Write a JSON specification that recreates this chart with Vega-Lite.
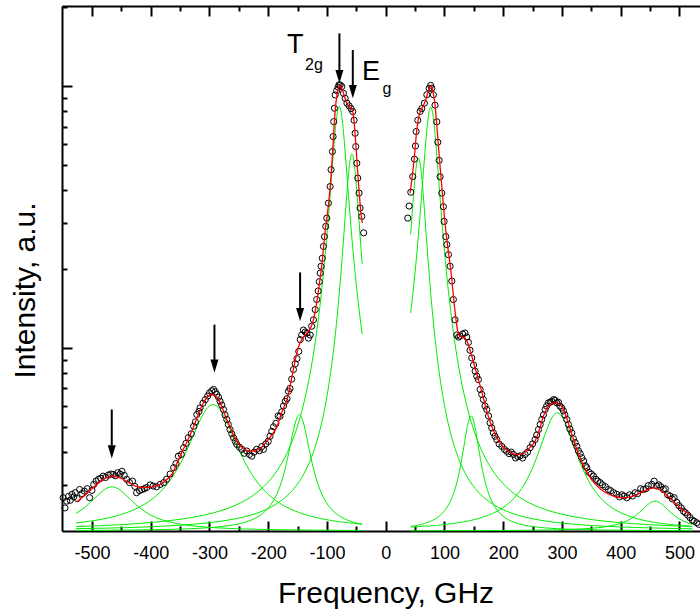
{
"$schema":"https://vega.github.io/schema/vega-lite/v6.json",
"width":638,"height":525,
"autosize":{"type":"none"},
"padding":{"left":62,"top":6,"right":0,"bottom":80},
"background":"white",
"config":{"view":{"stroke":null}},
"datasets":{
"pts":[
{"f":-549,"v":0.268},{"f":-546,"v":0.245},{"f":-543,"v":0.26},{"f":-540,"v":0.271},{"f":-537,"v":0.262},{"f":-534,"v":0.276},{"f":-531,"v":0.27},{"f":-528.5,"v":0.28},{"f":-525,"v":0.266},{"f":-521,"v":0.288},{"f":-517,"v":0.278},{"f":-513,"v":0.284},{"f":-508,"v":0.29},{"f":-504,"v":0.268},{"f":-500,"v":0.286},{"f":-497,"v":0.301},{"f":-493,"v":0.31},{"f":-489,"v":0.315},{"f":-485,"v":0.318},{"f":-481,"v":0.324},{"f":-477,"v":0.32},{"f":-472,"v":0.327},{"f":-468,"v":0.33},{"f":-464,"v":0.329},{"f":-460,"v":0.325},{"f":-456,"v":0.334},{"f":-452,"v":0.33},{"f":-449,"v":0.338},{"f":-445,"v":0.326},{"f":-441,"v":0.315},{"f":-436,"v":0.306},{"f":-431,"v":0.31},{"f":-427,"v":0.296},{"f":-424,"v":0.28},{"f":-419,"v":0.285},{"f":-415,"v":0.288},{"f":-411,"v":0.29},{"f":-407,"v":0.293},{"f":-401,"v":0.3},{"f":-396,"v":0.297},{"f":-390,"v":0.295},{"f":-384,"v":0.301},{"f":-378,"v":0.306},{"f":-373,"v":0.315},{"f":-367,"v":0.33},{"f":-361,"v":0.349},{"f":-357,"v":0.362},{"f":-353,"v":0.386},{"f":-348,"v":0.392},{"f":-344,"v":0.416},{"f":-340,"v":0.432},{"f":-336,"v":0.454},{"f":-331,"v":0.47},{"f":-327,"v":0.502},{"f":-324,"v":0.522},{"f":-321.5,"v":0.557},{"f":-318,"v":0.572},{"f":-316,"v":0.59},{"f":-311,"v":0.615},{"f":-307,"v":0.635},{"f":-303,"v":0.655},{"f":-300,"v":0.673},{"f":-296,"v":0.686},{"f":-293,"v":0.694},{"f":-290,"v":0.68},{"f":-287.5,"v":0.664},{"f":-284.5,"v":0.648},{"f":-282,"v":0.626},{"f":-279,"v":0.605},{"f":-276,"v":0.582},{"f":-273.5,"v":0.555},{"f":-270.5,"v":0.533},{"f":-268,"v":0.51},{"f":-265,"v":0.488},{"f":-262,"v":0.47},{"f":-259,"v":0.454},{"f":-256,"v":0.44},{"f":-253.5,"v":0.428},{"f":-249,"v":0.418},{"f":-245,"v":0.41},{"f":-240.5,"v":0.396},{"f":-236.5,"v":0.404},{"f":-232,"v":0.392},{"f":-228,"v":0.386},{"f":-224,"v":0.4},{"f":-219.5,"v":0.41},{"f":-215,"v":0.405},{"f":-211,"v":0.42},{"f":-208,"v":0.41},{"f":-204,"v":0.43},{"f":-200,"v":0.44},{"f":-197,"v":0.46},{"f":-194,"v":0.48},{"f":-191,"v":0.5},{"f":-187,"v":0.515},{"f":-183,"v":0.55},{"f":-180,"v":0.548},{"f":-177,"v":0.57},{"f":-174,"v":0.6},{"f":-171,"v":0.625},{"f":-168,"v":0.64},{"f":-165.5,"v":0.683},{"f":-163,"v":0.7},{"f":-160,"v":0.76},{"f":-157,"v":0.827},{"f":-154,"v":0.87},{"f":-151,"v":0.91},{"f":-148,"v":0.97},{"f":-145.5,"v":1.076},{"f":-143,"v":1.12},{"f":-140,"v":1.17},{"f":-137,"v":1.15},{"f":-134,"v":1.14},{"f":-131.5,"v":1.09},{"f":-128.5,"v":1.12},{"f":-126,"v":1.21},{"f":-123,"v":1.28},{"f":-120,"v":1.4},{"f":-117.5,"v":1.53},{"f":-115,"v":1.65},{"f":-113,"v":1.79},{"f":-111.5,"v":1.93},{"f":-110,"v":2.05},{"f":-108,"v":2.2},{"f":-106,"v":2.44},{"f":-104.3,"v":2.66},{"f":-102,"v":2.91},{"f":-100.3,"v":3.13},{"f":-97.5,"v":3.57},{"f":-94.6,"v":4.13},{"f":-93,"v":4.79},{"f":-90.7,"v":5.62},{"f":-89.5,"v":6.41},{"f":-88.5,"v":7.31},{"f":-87.3,"v":8.22},{"f":-86,"v":9.24},{"f":-83.5,"v":9.6},{"f":-81,"v":9.9},{"f":-79.5,"v":10.1},{"f":-77.5,"v":10.09},{"f":-74.7,"v":9.95},{"f":-72,"v":9.38},{"f":-69,"v":8.97},{"f":-66,"v":8.6},{"f":-62.3,"v":8.4},{"f":-59,"v":8.2},{"f":-56,"v":7.98},{"f":-53.8,"v":7.4},{"f":-52,"v":6.6},{"f":-51,"v":5.87},{"f":-49.2,"v":5.07},{"f":-47.5,"v":4.45},{"f":-45.3,"v":3.9},{"f":-43.6,"v":3.42},{"f":-40.7,"v":3.18},{"f":-37.5,"v":2.75},
{"f":37.6,"v":3.13},{"f":39.8,"v":3.48},{"f":42.7,"v":3.93},{"f":46,"v":4.51},{"f":48.9,"v":5.26},{"f":50.6,"v":5.9},{"f":51.8,"v":6.7},{"f":54.6,"v":7.4},{"f":58.6,"v":8.0},{"f":61.4,"v":8.2},{"f":65.9,"v":8.6},{"f":70,"v":9.26},{"f":73.9,"v":9.8},{"f":76.5,"v":10.05},{"f":78.5,"v":9.8},{"f":81.2,"v":9.26},{"f":84,"v":8.45},{"f":87,"v":7.3},{"f":88.7,"v":6.1},{"f":91,"v":5.2},{"f":92.6,"v":4.5},{"f":95.5,"v":3.9},{"f":98.2,"v":3.46},{"f":99.4,"v":3.04},{"f":102.3,"v":2.66},{"f":104,"v":2.48},{"f":106.8,"v":2.27},{"f":109.6,"v":2.05},{"f":112.5,"v":1.8},{"f":115.2,"v":1.53},{"f":118,"v":1.28},{"f":121,"v":1.12},{"f":124,"v":1.1},{"f":126.6,"v":1.11},{"f":131,"v":1.13},{"f":135,"v":1.14},{"f":138,"v":1.1},{"f":140.8,"v":1.05},{"f":143.5,"v":0.98},{"f":146.5,"v":0.916},{"f":149.5,"v":0.86},{"f":152.2,"v":0.815},{"f":155,"v":0.78},{"f":157.8,"v":0.757},{"f":160.7,"v":0.694},{"f":163.5,"v":0.665},{"f":166.3,"v":0.635},{"f":169,"v":0.6},{"f":172,"v":0.582},{"f":175,"v":0.55},{"f":177.7,"v":0.518},{"f":180.5,"v":0.495},{"f":183.3,"v":0.474},{"f":186,"v":0.46},{"f":189,"v":0.447},{"f":193,"v":0.43},{"f":197.6,"v":0.421},{"f":202,"v":0.41},{"f":206,"v":0.403},{"f":210,"v":0.395},{"f":213.5,"v":0.4},{"f":217.4,"v":0.392},{"f":221,"v":0.38},{"f":225,"v":0.385},{"f":228.8,"v":0.387},{"f":233,"v":0.38},{"f":237.3,"v":0.392},{"f":241.5,"v":0.4},{"f":245.8,"v":0.416},{"f":250,"v":0.43},{"f":254.3,"v":0.447},{"f":257,"v":0.465},{"f":260,"v":0.488},{"f":263,"v":0.51},{"f":265.7,"v":0.533},{"f":268.5,"v":0.555},{"f":271.3,"v":0.582},{"f":274,"v":0.6},{"f":277,"v":0.617},{"f":280,"v":0.62},{"f":282.7,"v":0.626},{"f":286,"v":0.635},{"f":288.5,"v":0.63},{"f":291.2,"v":0.617},{"f":294,"v":0.62},{"f":296.5,"v":0.6},{"f":299.7,"v":0.59},{"f":302.5,"v":0.575},{"f":305,"v":0.555},{"f":308.3,"v":0.533},{"f":311,"v":0.51},{"f":313.5,"v":0.49},{"f":316.8,"v":0.474},{"f":319.5,"v":0.45},{"f":322.5,"v":0.435},{"f":325.3,"v":0.421},{"f":328,"v":0.405},{"f":331,"v":0.395},{"f":333.8,"v":0.381},{"f":337,"v":0.37},{"f":340,"v":0.355},{"f":342.3,"v":0.349},{"f":346,"v":0.335},{"f":350,"v":0.33},{"f":353.6,"v":0.324},{"f":358,"v":0.315},{"f":361,"v":0.31},{"f":365,"v":0.306},{"f":369,"v":0.3},{"f":374,"v":0.295},{"f":379,"v":0.288},{"f":383,"v":0.285},{"f":388,"v":0.28},{"f":393.4,"v":0.276},{"f":398,"v":0.27},{"f":402,"v":0.275},{"f":406,"v":0.272},{"f":410.4,"v":0.268},{"f":415,"v":0.275},{"f":420,"v":0.272},{"f":424.5,"v":0.28},{"f":429,"v":0.278},{"f":434,"v":0.29},{"f":438.6,"v":0.288},{"f":443,"v":0.29},{"f":447,"v":0.298},{"f":452.9,"v":0.301},{"f":457,"v":0.31},{"f":461.4,"v":0.297},{"f":465,"v":0.3},{"f":468.5,"v":0.295},{"f":472.7,"v":0.288},{"f":476,"v":0.29},{"f":480,"v":0.275},{"f":484,"v":0.272},{"f":488,"v":0.265},{"f":491,"v":0.268},{"f":495.5,"v":0.257},{"f":499,"v":0.25},{"f":503,"v":0.245},{"f":506.8,"v":0.238},{"f":510,"v":0.235},{"f":514,"v":0.23},{"f":518,"v":0.225},{"f":522,"v":0.22},{"f":525,"v":0.218},{"f":529.5,"v":0.215},{"f":533,"v":0.212}
],
"fit":[
{"s":"L","f":-526,"v":0.258},{"s":"L","f":-515,"v":0.27},{"s":"L","f":-505,"v":0.283},{"s":"L","f":-495,"v":0.297},{"s":"L","f":-485,"v":0.31},{"s":"L","f":-475,"v":0.32},{"s":"L","f":-466,"v":0.324},{"s":"L","f":-457,"v":0.322},{"s":"L","f":-448,"v":0.316},{"s":"L","f":-438,"v":0.307},{"s":"L","f":-428,"v":0.298},{"s":"L","f":-419,"v":0.294},{"s":"L","f":-410,"v":0.293},{"s":"L","f":-400,"v":0.294},{"s":"L","f":-390,"v":0.298},{"s":"L","f":-380,"v":0.305},{"s":"L","f":-370,"v":0.318},{"s":"L","f":-362,"v":0.335},{"s":"L","f":-355,"v":0.364},{"s":"L","f":-347,"v":0.4},{"s":"L","f":-340,"v":0.43},{"s":"L","f":-333,"v":0.465},{"s":"L","f":-327,"v":0.5},{"s":"L","f":-320,"v":0.55},{"s":"L","f":-313,"v":0.6},{"s":"L","f":-306,"v":0.64},{"s":"L","f":-300,"v":0.66},{"s":"L","f":-296,"v":0.664},{"s":"L","f":-291,"v":0.658},{"s":"L","f":-285,"v":0.635},{"s":"L","f":-278,"v":0.59},{"s":"L","f":-271,"v":0.535},{"s":"L","f":-265,"v":0.5},{"s":"L","f":-258,"v":0.46},{"s":"L","f":-250,"v":0.43},{"s":"L","f":-242,"v":0.413},{"s":"L","f":-235,"v":0.405},{"s":"L","f":-230,"v":0.404},{"s":"L","f":-224,"v":0.405},{"s":"L","f":-218,"v":0.408},{"s":"L","f":-212,"v":0.415},{"s":"L","f":-206,"v":0.43},{"s":"L","f":-200,"v":0.447},{"s":"L","f":-191,"v":0.475},{"s":"L","f":-185,"v":0.5},{"s":"L","f":-178,"v":0.56},{"s":"L","f":-171,"v":0.61},{"s":"L","f":-168,"v":0.635},{"s":"L","f":-162,"v":0.73},{"s":"L","f":-157,"v":0.83},{"s":"L","f":-152,"v":0.94},{"s":"L","f":-146,"v":1.045},{"s":"L","f":-140,"v":1.1},{"s":"L","f":-134,"v":1.14},{"s":"L","f":-128,"v":1.19},{"s":"L","f":-123,"v":1.28},{"s":"L","f":-119,"v":1.42},{"s":"L","f":-115,"v":1.62},{"s":"L","f":-112,"v":1.82},{"s":"L","f":-109,"v":2.05},{"s":"L","f":-106,"v":2.38},{"s":"L","f":-103,"v":2.8},{"s":"L","f":-100,"v":3.15},{"s":"L","f":-97,"v":3.6},{"s":"L","f":-94,"v":4.25},{"s":"L","f":-91,"v":5.3},{"s":"L","f":-88,"v":6.9},{"s":"L","f":-85.5,"v":8.3},{"s":"L","f":-83,"v":9.2},{"s":"L","f":-80.5,"v":9.85},{"s":"L","f":-78.5,"v":10.0},{"s":"L","f":-76,"v":9.9},{"s":"L","f":-73,"v":9.55},{"s":"L","f":-70,"v":9.1},{"s":"L","f":-67,"v":8.7},{"s":"L","f":-64,"v":8.45},{"s":"L","f":-61,"v":8.3},{"s":"L","f":-58,"v":8.2},{"s":"L","f":-56,"v":7.95},{"s":"L","f":-54,"v":7.4},{"s":"L","f":-52,"v":6.5},{"s":"L","f":-50,"v":5.6},{"s":"L","f":-48,"v":4.8},{"s":"L","f":-46,"v":4.15},{"s":"L","f":-44,"v":3.65},{"s":"L","f":-42,"v":3.25},{"s":"L","f":-39.7,"v":3.0},
{"s":"R","f":41.5,"v":3.9},{"s":"R","f":44,"v":4.3},{"s":"R","f":46.5,"v":4.8},{"s":"R","f":49,"v":5.4},{"s":"R","f":51.5,"v":6.3},{"s":"R","f":54,"v":7.1},{"s":"R","f":56.5,"v":7.65},{"s":"R","f":59,"v":8.0},{"s":"R","f":62,"v":8.25},{"s":"R","f":65,"v":8.5},{"s":"R","f":68,"v":8.85},{"s":"R","f":71,"v":9.3},{"s":"R","f":74,"v":9.75},{"s":"R","f":76.7,"v":10.0},{"s":"R","f":79,"v":9.85},{"s":"R","f":81,"v":9.4},{"s":"R","f":83,"v":8.8},{"s":"R","f":85,"v":8.0},{"s":"R","f":87,"v":7.1},{"s":"R","f":89,"v":6.2},{"s":"R","f":91,"v":5.45},{"s":"R","f":93,"v":4.8},{"s":"R","f":95.5,"v":4.15},{"s":"R","f":98,"v":3.55},{"s":"R","f":101,"v":3.0},{"s":"R","f":104,"v":2.6},{"s":"R","f":107,"v":2.3},{"s":"R","f":110,"v":2.05},{"s":"R","f":113,"v":1.78},{"s":"R","f":116,"v":1.52},{"s":"R","f":119,"v":1.32},{"s":"R","f":122,"v":1.18},{"s":"R","f":126,"v":1.11},{"s":"R","f":130,"v":1.1},{"s":"R","f":135,"v":1.09},{"s":"R","f":140,"v":1.04},{"s":"R","f":146,"v":0.94},{"s":"R","f":152,"v":0.84},{"s":"R","f":158,"v":0.755},{"s":"R","f":165,"v":0.66},{"s":"R","f":172,"v":0.575},{"s":"R","f":180,"v":0.505},{"s":"R","f":188,"v":0.46},{"s":"R","f":196,"v":0.43},{"s":"R","f":205,"v":0.41},{"s":"R","f":214,"v":0.397},{"s":"R","f":223,"v":0.392},{"s":"R","f":231,"v":0.393},{"s":"R","f":240,"v":0.405},{"s":"R","f":246,"v":0.418},{"s":"R","f":251.5,"v":0.43},{"s":"R","f":257,"v":0.455},{"s":"R","f":262,"v":0.49},{"s":"R","f":268.4,"v":0.548},{"s":"R","f":275,"v":0.59},{"s":"R","f":281,"v":0.61},{"s":"R","f":288.3,"v":0.617},{"s":"R","f":294,"v":0.612},{"s":"R","f":300,"v":0.595},{"s":"R","f":307,"v":0.55},{"s":"R","f":314,"v":0.49},{"s":"R","f":320,"v":0.445},{"s":"R","f":326,"v":0.405},{"s":"R","f":331,"v":0.38},{"s":"R","f":336.5,"v":0.355},{"s":"R","f":343,"v":0.335},{"s":"R","f":350,"v":0.315},{"s":"R","f":357,"v":0.302},{"s":"R","f":365,"v":0.29},{"s":"R","f":375,"v":0.28},{"s":"R","f":388,"v":0.272},{"s":"R","f":400,"v":0.268},{"s":"R","f":410,"v":0.268},{"s":"R","f":420,"v":0.271},{"s":"R","f":430,"v":0.277},{"s":"R","f":440,"v":0.284},{"s":"R","f":450,"v":0.29},{"s":"R","f":458.5,"v":0.292},{"s":"R","f":466,"v":0.288},{"s":"R","f":473,"v":0.281},{"s":"R","f":480,"v":0.272},{"s":"R","f":488,"v":0.262},{"s":"R","f":495,"v":0.253},{"s":"R","f":503,"v":0.243},{"s":"R","f":510,"v":0.237},{"s":"R","f":518,"v":0.232}
],
"comp":[
{"s":"L","f":-527,"a":0.2335,"b":0.2147,"c":0.201,"d":0.2079,"e":0.2041},
{"s":"L","f":-510,"a":0.2486,"b":0.217,"c":0.2011,"d":0.2086,"e":0.2044},
{"s":"L","f":-490,"a":0.274,"b":0.2204,"c":0.2012,"d":0.2094,"e":0.2048},
{"s":"L","f":-475,"a":0.2913,"b":0.2238,"c":0.2013,"d":0.2102,"e":0.2051},
{"s":"L","f":-466,"a":0.295,"b":0.2261,"c":0.2014,"d":0.2106,"e":0.2054},
{"s":"L","f":-455,"a":0.2896,"b":0.2296,"c":0.2015,"d":0.2113,"e":0.2057},
{"s":"L","f":-440,"a":0.2712,"b":0.2354,"c":0.2017,"d":0.2122,"e":0.2061},
{"s":"L","f":-420,"a":0.2465,"b":0.2462,"c":0.2019,"d":0.2137,"e":0.2068},
{"s":"L","f":-400,"a":0.2301,"b":0.2623,"c":0.2022,"d":0.2155,"e":0.2076},
{"s":"L","f":-380,"a":0.2204,"b":0.2877,"c":0.2026,"d":0.2176,"e":0.2086},
{"s":"L","f":-360,"a":0.2145,"b":0.3295,"c":0.2031,"d":0.2202,"e":0.2098},
{"s":"L","f":-345,"a":0.2115,"b":0.3786,"c":0.2036,"d":0.2225,"e":0.2108},
{"s":"L","f":-330,"a":0.2094,"b":0.4488,"c":0.2042,"d":0.2253,"e":0.212},
{"s":"L","f":-318,"a":0.208,"b":0.5178,"c":0.2048,"d":0.2279,"e":0.2132},
{"s":"L","f":-306,"a":0.207,"b":0.5809,"c":0.2056,"d":0.2308,"e":0.2145},
{"s":"L","f":-294,"a":0.2061,"b":0.608,"c":0.2065,"d":0.2344,"e":0.216},
{"s":"L","f":-282,"a":0.2054,"b":0.5809,"c":0.2077,"d":0.2386,"e":0.2177},
{"s":"L","f":-270,"a":0.2048,"b":0.5178,"c":0.2092,"d":0.2435,"e":0.2198},
{"s":"L","f":-255,"a":0.2041,"b":0.433,"c":0.2118,"d":0.2512,"e":0.2228},
{"s":"L","f":-240,"a":0.2036,"b":0.3672,"c":0.2158,"d":0.2611,"e":0.2268},
{"s":"L","f":-225,"a":0.2032,"b":0.3218,"c":0.222,"d":0.2741,"e":0.2317},
{"s":"L","f":-210,"a":0.2028,"b":0.291,"c":0.2327,"d":0.2919,"e":0.2382},
{"s":"L","f":-195,"a":0.2025,"b":0.2699,"c":0.2528,"d":0.3168,"e":0.247},
{"s":"L","f":-183,"a":0.2023,"b":0.2576,"c":0.2842,"d":0.3448,"e":0.2563},
{"s":"L","f":-172,"a":0.2022,"b":0.2489,"c":0.3393,"d":0.3805,"e":0.2674},
{"s":"L","f":-163,"a":0.202,"b":0.2431,"c":0.4177,"d":0.42,"e":0.2792},
{"s":"L","f":-155,"a":0.2019,"b":0.2387,"c":0.5078,"d":0.4669,"e":0.2926},
{"s":"L","f":-147,"a":0.2019,"b":0.235,"c":0.557,"d":0.5309,"e":0.3095},
{"s":"L","f":-139,"a":0.2018,"b":0.2317,"c":0.5078,"d":0.6202,"e":0.3315},
{"s":"L","f":-131,"a":0.2017,"b":0.2289,"c":0.4177,"d":0.75,"e":0.3608},
{"s":"L","f":-123,"a":0.2016,"b":0.2264,"c":0.3463,"d":0.9482,"e":0.4008},
{"s":"L","f":-115,"a":0.2015,"b":0.2243,"c":0.3003,"d":1.27,"e":0.4578},
{"s":"L","f":-109,"a":0.2015,"b":0.2228,"c":0.2774,"d":1.656,"e":0.5174},
{"s":"L","f":-103,"a":0.2014,"b":0.2215,"c":0.2611,"d":2.266,"e":0.6},
{"s":"L","f":-98,"a":0.2014,"b":0.2204,"c":0.251,"d":3.064,"e":0.6949},
{"s":"L","f":-94,"a":0.2013,"b":0.2197,"c":0.2445,"d":3.99,"e":0.7968},
{"s":"L","f":-90,"a":0.2013,"b":0.2189,"c":0.2391,"d":5.234,"e":0.931},
{"s":"L","f":-87,"a":0.2013,"b":0.2184,"c":0.2357,"d":6.336,"e":1.062},
{"s":"L","f":-84,"a":0.2012,"b":0.2179,"c":0.2327,"d":7.419,"e":1.228},
{"s":"L","f":-81,"a":0.2012,"b":0.2174,"c":0.23,"d":8.177,"e":1.441},
{"s":"L","f":-79,"a":0.2012,"b":0.2171,"c":0.2284,"d":8.34,"e":1.619},
{"s":"L","f":-77,"a":0.2012,"b":0.2168,"c":0.2269,"d":8.177,"e":1.831},
{"s":"L","f":-74,"a":0.2011,"b":0.2164,"c":0.225,"d":7.419,"e":2.23},
{"s":"L","f":-71,"a":0.2011,"b":0.216,"c":0.2231,"d":6.336,"e":2.75},
{"s":"L","f":-68,"a":0.2011,"b":0.2156,"c":0.2215,"d":5.234,"e":3.408},
{"s":"L","f":-65,"a":0.2011,"b":0.2152,"c":0.22,"d":4.27,"e":4.176},
{"s":"L","f":-62,"a":0.201,"b":0.2148,"c":0.2187,"d":3.49,"e":4.933},
{"s":"L","f":-59.5,"a":0.201,"b":0.2145,"c":0.2178,"d":2.969,"e":5.377},
{"s":"L","f":-57.5,"a":0.201,"b":0.2143,"c":0.217,"d":2.624,"e":5.5},
{"s":"L","f":-55.5,"a":0.201,"b":0.214,"c":0.2163,"d":2.332,"e":5.377},
{"s":"L","f":-53,"a":0.201,"b":0.2137,"c":0.2155,"d":2.03,"e":4.933},
{"s":"L","f":-50,"a":0.201,"b":0.2134,"c":0.2146,"d":1.739,"e":4.176},
{"s":"L","f":-47,"a":0.201,"b":0.2131,"c":0.2137,"d":1.509,"e":3.408},
{"s":"L","f":-44,"a":0.201,"b":0.2128,"c":0.213,"d":1.323,"e":2.75},
{"s":"L","f":-42,"a":0.201,"b":0.2127,"c":0.2127,"d":1.22,"e":2.39},
{"s":"L","f":-40,"a":0.201,"b":0.2124,"c":0.212,"d":1.129,"e":2.086},
{"s":"R","f":42.5,"a":0.2004,"b":0.207,"c":0.2083,"d":1.362,"e":2.711},
{"s":"R","f":45,"a":0.2004,"b":0.2072,"c":0.2087,"d":1.521,"e":3.24},
{"s":"R","f":48,"a":0.2004,"b":0.2073,"c":0.2092,"d":1.758,"e":3.975},
{"s":"R","f":51,"a":0.2004,"b":0.2075,"c":0.2098,"d":2.054,"e":4.71},
{"s":"R","f":53.5,"a":0.2004,"b":0.2077,"c":0.2103,"d":2.362,"e":5.158},
{"s":"R","f":55.7,"a":0.2004,"b":0.2078,"c":0.2108,"d":2.692,"e":5.3},
{"s":"R","f":58,"a":0.2004,"b":0.208,"c":0.2114,"d":3.109,"e":5.145},
{"s":"R","f":60.5,"a":0.2005,"b":0.2081,"c":0.212,"d":3.663,"e":4.688},
{"s":"R","f":63,"a":0.2005,"b":0.2083,"c":0.2127,"d":4.338,"e":4.077},
{"s":"R","f":66,"a":0.2005,"b":0.2085,"c":0.2137,"d":5.313,"e":3.333},
{"s":"R","f":69,"a":0.2005,"b":0.2088,"c":0.2147,"d":6.419,"e":2.691},
{"s":"R","f":72,"a":0.2005,"b":0.209,"c":0.2159,"d":7.48,"e":2.183},
{"s":"R","f":74.5,"a":0.2005,"b":0.2092,"c":0.217,"d":8.105,"e":1.85},
{"s":"R","f":76.7,"a":0.2005,"b":0.2094,"c":0.218,"d":8.3,"e":1.613},
{"s":"R","f":79,"a":0.2005,"b":0.2096,"c":0.2192,"d":8.087,"e":1.411},
{"s":"R","f":82,"a":0.2005,"b":0.2098,"c":0.221,"d":7.285,"e":1.202},
{"s":"R","f":85,"a":0.2005,"b":0.2101,"c":0.223,"d":6.193,"e":1.039},
{"s":"R","f":88,"a":0.2005,"b":0.2104,"c":0.2252,"d":5.105,"e":0.911},
{"s":"R","f":91,"a":0.2005,"b":0.2107,"c":0.2279,"d":4.165,"e":0.809},
{"s":"R","f":95,"a":0.2005,"b":0.2111,"c":0.2321,"d":3.19,"e":0.703},
{"s":"R","f":99,"a":0.2005,"b":0.2116,"c":0.2372,"d":2.49,"e":0.6218},
{"s":"R","f":104,"a":0.2005,"b":0.2122,"c":0.2455,"d":1.8875,"e":0.5446},
{"s":"R","f":109,"a":0.2005,"b":0.2129,"c":0.2566,"d":1.482,"e":0.4865},
{"s":"R","f":115,"a":0.2006,"b":0.2137,"c":0.2759,"d":1.155,"e":0.434},
{"s":"R","f":121,"a":0.2006,"b":0.2146,"c":0.3053,"d":0.936,"e":0.3947},
{"s":"R","f":127,"a":0.2006,"b":0.2157,"c":0.3507,"d":0.7827,"e":0.364},
{"s":"R","f":133,"a":0.2006,"b":0.2168,"c":0.4187,"d":0.6717,"e":0.3401},
{"s":"R","f":139,"a":0.2006,"b":0.2181,"c":0.5017,"d":0.5894,"e":0.3213},
{"s":"R","f":145.4,"a":0.2006,"b":0.2196,"c":0.55,"d":0.5227,"e":0.3049},
{"s":"R","f":152,"a":0.2007,"b":0.2214,"c":0.4991,"d":0.4709,"e":0.2912},
{"s":"R","f":158,"a":0.2007,"b":0.2232,"c":0.416,"d":0.4334,"e":0.2811},
{"s":"R","f":165,"a":0.2007,"b":0.2257,"c":0.34,"d":0.3985,"e":0.2711},
{"s":"R","f":173,"a":0.2007,"b":0.2289,"c":0.288,"d":0.3677,"e":0.2619},
{"s":"R","f":182,"a":0.2008,"b":0.2334,"c":0.2562,"d":0.3406,"e":0.2535},
{"s":"R","f":192,"a":0.2008,"b":0.2396,"c":0.2369,"d":0.3177,"e":0.246},
{"s":"R","f":205,"a":0.2009,"b":0.2506,"c":0.2235,"d":0.2953,"e":0.2384},
{"s":"R","f":220,"a":0.2011,"b":0.2693,"c":0.2154,"d":0.2766,"e":0.2317},
{"s":"R","f":235,"a":0.2012,"b":0.2992,"c":0.2108,"d":0.2628,"e":0.2267},
{"s":"R","f":250,"a":0.2014,"b":0.3483,"c":0.208,"d":0.2525,"e":0.2227},
{"s":"R","f":262,"a":0.2016,"b":0.4086,"c":0.2065,"d":0.246,"e":0.2202},
{"s":"R","f":273,"a":0.2017,"b":0.4799,"c":0.2054,"d":0.241,"e":0.2182},
{"s":"R","f":283,"a":0.2019,"b":0.5409,"c":0.2047,"d":0.2371,"e":0.2166},
{"s":"R","f":292.3,"a":0.2021,"b":0.565,"c":0.2041,"d":0.234,"e":0.2154},
{"s":"R","f":302,"a":0.2024,"b":0.539,"c":0.2036,"d":0.2312,"e":0.2142},
{"s":"R","f":312,"a":0.2027,"b":0.4772,"c":0.2032,"d":0.2286,"e":0.2131},
{"s":"R","f":324,"a":0.2032,"b":0.4005,"c":0.2028,"d":0.2259,"e":0.212},
{"s":"R","f":337,"a":0.2039,"b":0.3387,"c":0.2024,"d":0.2234,"e":0.2109},
{"s":"R","f":352,"a":0.205,"b":0.2934,"c":0.2021,"d":0.2209,"e":0.2098},
{"s":"R","f":370,"a":0.2069,"b":0.2616,"c":0.2018,"d":0.2184,"e":0.2087},
{"s":"R","f":390,"a":0.2108,"b":0.2415,"c":0.2015,"d":0.2161,"e":0.2077},
{"s":"R","f":410,"a":0.2182,"b":0.2297,"c":0.2013,"d":0.2143,"e":0.2069},
{"s":"R","f":425,"a":0.2286,"b":0.2238,"c":0.2011,"d":0.2131,"e":0.2063},
{"s":"R","f":438,"a":0.2426,"b":0.2199,"c":0.201,"d":0.2121,"e":0.2059},
{"s":"R","f":449,"a":0.2551,"b":0.2174,"c":0.201,"d":0.2114,"e":0.2056},
{"s":"R","f":458.5,"a":0.26,"b":0.2155,"c":0.2009,"d":0.2109,"e":0.2053},
{"s":"R","f":468,"a":0.2551,"b":0.2139,"c":0.2009,"d":0.2104,"e":0.2051},
{"s":"R","f":479,"a":0.2426,"b":0.2124,"c":0.2008,"d":0.2098,"e":0.2048},
{"s":"R","f":492,"a":0.2286,"b":0.2109,"c":0.2007,"d":0.2092,"e":0.2045},
{"s":"R","f":507,"a":0.2182,"b":0.2095,"c":0.2007,"d":0.2086,"e":0.2042},
{"s":"R","f":522,"a":0.2121,"b":0.2083,"c":0.2006,"d":0.208,"e":0.204}
],
"arr":[
{"f":-466.3,"top":0.582,"mid":0.424,"tip":0.378},
{"f":-291.5,"top":1.227,"mid":0.9,"tip":0.803},
{"f":-145.7,"top":1.942,"mid":1.416,"tip":1.263},
{"f":-78.8,"top":15.88,"mid":11.48,"tip":10.24},
{"f":-56,"top":13.72,"mid":10.07,"tip":8.98}
],
"big":[{"f":-168.2,"v":13.33,"t":"T"},{"f":-40.5,"v":10.54,"t":"E"}],
"sub":[{"f":-137.2,"v":11.51,"t":"2g"},{"f":-5.3,"v":9.32,"t":"g"}]
},
"resolve":{"axis":{"x":"independent","y":"independent"}},
"layer":[
{"data":{"name":"comp"},
 "transform":[{"fold":["a","b","c","d","e"],"as":["k","v"]}],
 "mark":{"type":"line","color":"#00ee00","strokeWidth":1,"interpolate":"monotone"},
 "encoding":{
  "x":{"field":"f","type":"quantitative","scale":{"domain":[-551,535],"nice":false,"zero":false},
   "axis":{"orient":"bottom","values":[-500,-400,-300,-200,-100,0,100,200,300,400,500],"tickSize":-10,"tickWidth":2,"tickColor":"#000","domainColor":"#000","domainWidth":2,"grid":false,"labelFont":"Liberation Sans","labelFontSize":18,"labelColor":"#000","labelPadding":23,"labelFlush":false,"labelOverlap":false,"labelExpr":"'' + datum.value","title":"Frequency, GHz","titleFont":"Liberation Sans","titleFontSize":30,"titleFontWeight":"normal","titleColor":"#000","titleX":323.5,"titleY":71,"titleBaseline":"alphabetic","titleAlign":"center"}},
  "y":{"field":"v","type":"quantitative","scale":{"type":"log","domain":[0.2,20.2],"nice":false},
   "axis":{"orient":"left","values":[1,10],"tickSize":-10,"tickWidth":2,"tickColor":"#000","domainColor":"#000","domainWidth":2,"grid":false,"labels":false,"title":"Intensity, a.u.","titleFont":"Liberation Sans","titleFontSize":30,"titleFontWeight":"normal","titleColor":"#000","titleX":-28,"titleY":284,"titleAngle":270,"titleBaseline":"alphabetic","titleAlign":"center"}},
  "detail":[{"field":"s","type":"nominal"},{"field":"k","type":"nominal"}]}},
{"data":{"name":"pts"},
 "mark":{"type":"point","shape":"circle","filled":false,"stroke":"#000","strokeWidth":1,"size":38,"opacity":1},
 "encoding":{
  "x":{"field":"f","type":"quantitative","scale":{"domain":[-551,535],"nice":false,"zero":false},
   "axis":{"orient":"bottom","values":[-450,-350,-250,-150,-50,50,150,250,350,450],"tickSize":-5,"tickWidth":2,"tickColor":"#000","domain":false,"labels":false,"grid":false,"title":null}},
  "y":{"field":"v","type":"quantitative","scale":{"type":"log","domain":[0.2,20.2],"nice":false},
   "axis":{"orient":"left","values":[0.3,0.4,0.5,0.6,0.7,0.8,0.9,2,3,4,5,6,7,8,9,20],"tickSize":-5,"tickWidth":2,"tickColor":"#000","domain":false,"labels":false,"grid":false,"title":null}}}},
{"data":{"name":"fit"},
 "mark":{"type":"line","color":"#ff0000","strokeWidth":1.3,"interpolate":"monotone"},
 "encoding":{
  "x":{"field":"f","type":"quantitative","scale":{"domain":[-551,535],"nice":false,"zero":false},
   "axis":{"orient":"top","values":[-500,-400,-300,-200,-100,0,100,200,300,400,500],"tickSize":-10,"tickWidth":2,"tickColor":"#000","domainColor":"#000","domainWidth":2,"labels":false,"grid":false,"title":null}},
  "y":{"field":"v","type":"quantitative","scale":{"type":"log","domain":[0.2,20.2],"nice":false},"axis":null},
  "detail":{"field":"s","type":"nominal"}}},
{"data":{"name":"arr"},
 "mark":{"type":"rule","stroke":"#000","strokeWidth":2},
 "encoding":{
  "x":{"field":"f","type":"quantitative","scale":{"domain":[-551,535],"nice":false,"zero":false},
   "axis":{"orient":"top","values":[-450,-350,-250,-150,-50,50,150,250,350,450],"tickSize":-5,"tickWidth":2,"tickColor":"#000","domain":false,"labels":false,"grid":false,"title":null}},
  "y":{"field":"top","type":"quantitative","scale":{"type":"log","domain":[0.2,20.2],"nice":false},"axis":null},
  "y2":{"field":"mid"}}},
{"data":{"name":"arr"},
 "mark":{"type":"point","shape":"M-0.6,-2L0.6,-2L0,0Z","filled":true,"color":"#000","size":178,"opacity":1},
 "encoding":{
  "x":{"field":"f","type":"quantitative","scale":{"domain":[-551,535],"nice":false,"zero":false},"axis":null},
  "y":{"field":"tip","type":"quantitative","scale":{"type":"log","domain":[0.2,20.2],"nice":false},"axis":null}}},
{"data":{"name":"big"},
 "mark":{"type":"text","font":"Liberation Sans","fontSize":27,"align":"left","baseline":"alphabetic","color":"#000"},
 "encoding":{
  "x":{"field":"f","type":"quantitative","scale":{"domain":[-551,535],"nice":false,"zero":false},"axis":null},
  "y":{"field":"v","type":"quantitative","scale":{"type":"log","domain":[0.2,20.2],"nice":false},"axis":null},
  "text":{"field":"t"}}},
{"data":{"name":"sub"},
 "mark":{"type":"text","font":"Liberation Sans","fontSize":16,"align":"left","baseline":"alphabetic","color":"#000"},
 "encoding":{
  "x":{"field":"f","type":"quantitative","scale":{"domain":[-551,535],"nice":false,"zero":false},"axis":null},
  "y":{"field":"v","type":"quantitative","scale":{"type":"log","domain":[0.2,20.2],"nice":false},"axis":null},
  "text":{"field":"t"}}}
]
}
